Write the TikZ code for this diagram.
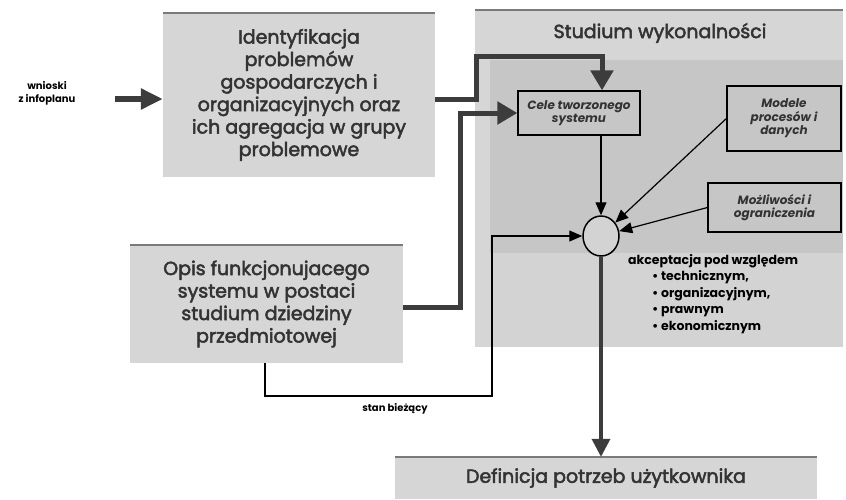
\documentclass[tikz,border=0pt]{standalone}
\usepackage{fontspec}
\setmainfont{Poppins}
\newfontfamily\heavy{Poppins}[FakeBold=2.5]
\usetikzlibrary{arrows.meta,shapes.geometric}
\definecolor{boxgray}{HTML}{D6D6D6}
\definecolor{innergray}{HTML}{C6C6C6}
\definecolor{lowgray}{HTML}{D3D3D3}
\definecolor{edgegray}{HTML}{7A7A7A}
\definecolor{txtgray}{HTML}{333333}
\definecolor{linegray}{HTML}{3C3C3C}
\tikzset{
  graybox/.style={rectangle, fill=boxgray, inner sep=0pt, align=center, text=txtgray},
  smallbox/.style={rectangle, draw=black, line width=1.2pt, fill=innergray, inner sep=0pt, align=center,
    font=\fontsize{12}{13.5}\selectfont\bfseries\itshape, text=txtgray},
  bigtext/.style={font=\heavy\fontsize{19}{22.5}\selectfont},
  thickconn/.style={line width=5pt, draw=linegray, -{Triangle[length=20pt,width=22pt]}},
  thinconn/.style={line width=1.2pt, draw=black, -{Triangle[length=13pt,width=11pt]}},
  topedge/.style={line width=2.5pt, draw=edgegray},
}
\begin{document}
\begin{tikzpicture}[x=1pt,y=-1pt]
\useasboundingbox (0,0) rectangle (846,499);
\fill[white] (0,0) rectangle (846,499);
% Studium background
\node[graybox, minimum width=368pt, minimum height=337pt] (stud) at (659,178.5) {};
\fill[innergray] (490,60) rectangle (843,253);
\fill[lowgray] (493,253) rectangle (843,347);
\draw[topedge] (stud.north west) -- (stud.north east);
\node[font=\heavy\fontsize{19}{22}\selectfont, text=txtgray] (studt) at (660,33) {Studium wykonalności};
% left boxes
\node[graybox, bigtext, minimum width=272pt, minimum height=164pt] (id) at (299,95)
  {Identyfikacja\\problemów\\gospodarczych i\\organizacyjnych oraz\\ich agregacja w grupy\\problemowe};
\draw[topedge] (id.north west) -- (id.north east);
\node[graybox, bigtext, minimum width=273pt, minimum height=118pt] (opis) at (266.5,304)
  {Opis funkcjonujacego\\systemu w postaci\\studium dziedziny\\przedmiotowej};
\draw[topedge] (opis.north west) -- (opis.north east);
\node[graybox, font=\heavy\fontsize{19}{22}\selectfont, minimum width=422pt, minimum height=42pt] (def) at (606,478)
  {Definicja potrzeb użytkownika};
\draw[topedge] (def.north west) -- (def.north east);
% small boxes
\node[smallbox, minimum width=122pt, minimum height=44pt] (cele) at (579,113) {Cele tworzonego\\systemu};
\node[smallbox, minimum width=114pt, minimum height=65pt] (modele) at (784,118.5) {Modele\\procesów i\\danych};
\node[smallbox, minimum width=133pt, minimum height=49pt] (mozl) at (774.5,207.5) {Możliwości i\\ograniczenia};
\node[ellipse, draw=black, line width=1.5pt, fill=lowgray, minimum width=36pt, minimum height=40pt, inner sep=0pt] (circ) at (601,236) {};
% texts
\node[font=\fontsize{10}{13}\selectfont\bfseries, align=center] (wn) at (47,93) {wnioski\\z infoplanu};
\node[font=\fontsize{10}{12}\selectfont\bfseries] (stan) at (395,409) {stan bieżący};
\node[font=\fontsize{12.5}{16.5}\selectfont\bfseries, align=left, anchor=north west, inner sep=0pt] (akc) at (628,254)
  {akceptacja pod względem\\
   \hspace*{24pt}\textbullet\ technicznym,\\
   \hspace*{24pt}\textbullet\ organizacyjnym,\\
   \hspace*{24pt}\textbullet\ prawnym\\
   \hspace*{24pt}\textbullet\ ekonomicznym};
% connectors
\coordinate (wnstart) at (115,99);
\coordinate (b1) at (476,56);
\coordinate (b2) at (460,113);
\coordinate (b3) at (492,396);
\draw[line width=6pt, draw=linegray, -{Triangle[length=22pt,width=20pt]}] (wnstart) -- (id.west |- wnstart);
\draw[thickconn] ([yshift=-4pt]id.east) -| (b1) -| ([xshift=23pt]cele.north);
\draw[thickconn] ([yshift=-3pt]opis.east) -| (b2) -- (cele.west);
\draw[thinconn] ([xshift=-1.5pt]opis.south) |- (b3) |- (circ.west);
\draw[thinconn] ([xshift=22pt]cele.south) -- (circ.north);
\draw[thinconn] (modele.west) -- (circ);
\draw[thinconn] (mozl.west) -- (circ);
\draw[line width=3.5pt, draw=linegray, -{Triangle[length=18pt,width=18pt]}] (circ.south) -- (circ.south |- def.north);
\end{tikzpicture}
\end{document}
